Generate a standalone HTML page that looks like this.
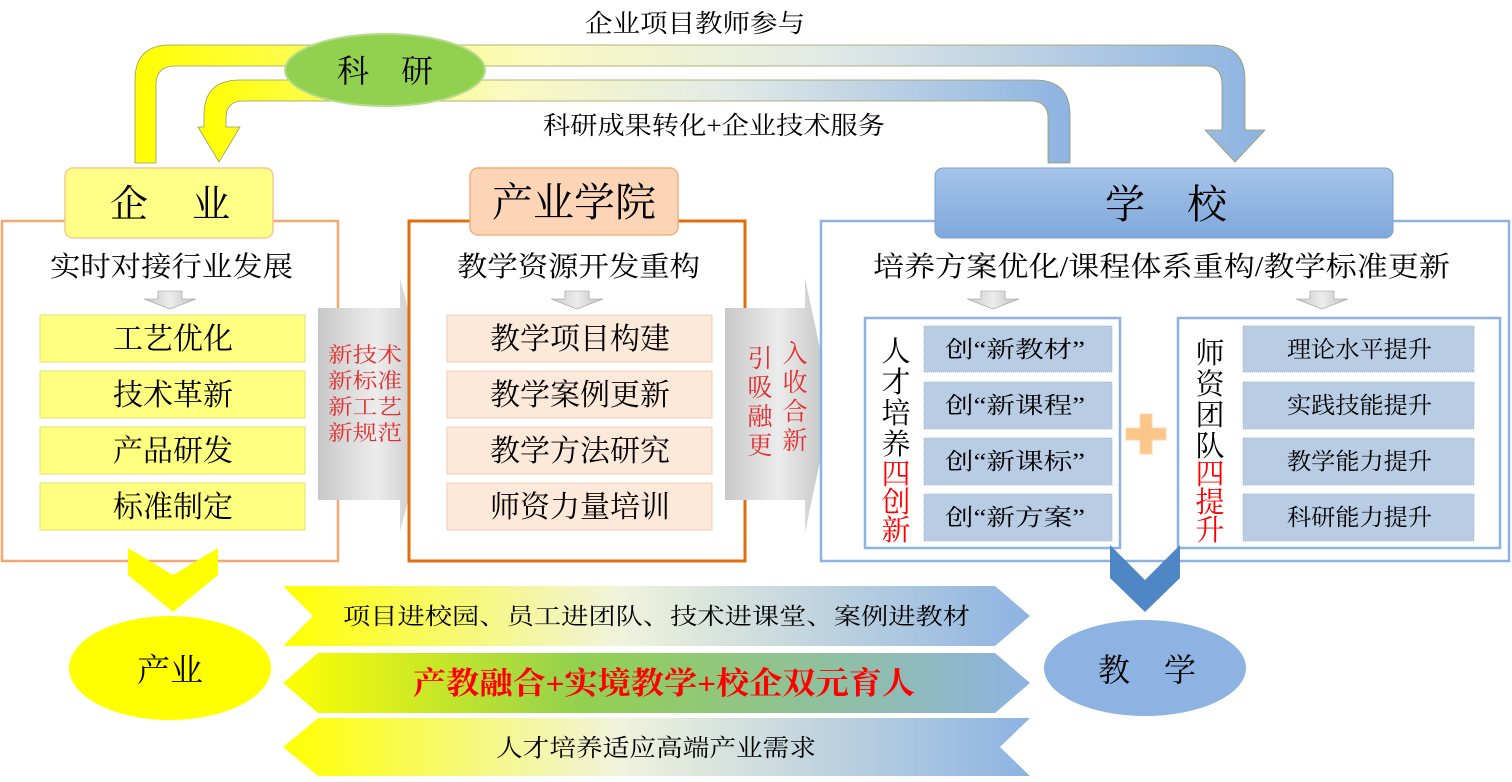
<!DOCTYPE html>
<html><head><meta charset="utf-8"><style>
html,body{margin:0;padding:0;background:#fff;}
svg text{font-family:"Liberation Serif","Noto Serif CJK SC","Noto Sans CJK SC",serif;}
</style></head><body>
<svg width="1512" height="777" viewBox="0 0 1512 777" xmlns="http://www.w3.org/2000/svg">
<defs>
<linearGradient id="band" x1="0" x2="1"><stop offset="0" stop-color="#ffff00"/><stop offset="0.35" stop-color="#fafac0"/><stop offset="0.6" stop-color="#e4ebe6"/><stop offset="1" stop-color="#8db3e2"/></linearGradient>
<linearGradient id="gray" x1="0" x2="1"><stop offset="0" stop-color="#c8c8c8"/><stop offset="0.5" stop-color="#ececec"/><stop offset="1" stop-color="#c0c0c0"/></linearGradient>
<linearGradient id="b1" x1="0" x2="1"><stop offset="0" stop-color="#ffff00"/><stop offset="0.45" stop-color="#f0f3dc"/><stop offset="1" stop-color="#8db3e2"/></linearGradient>
<linearGradient id="b2" x1="0" x2="1"><stop offset="0" stop-color="#ffff00"/><stop offset="0.4" stop-color="#92d050"/><stop offset="1" stop-color="#8db3e2"/></linearGradient>
<linearGradient id="sch" x1="0" y1="0" x2="0" y2="1"><stop offset="0" stop-color="#a6c4ea"/><stop offset="1" stop-color="#7fa8db"/></linearGradient>
</defs>

<path d="M135,163 L135,80 Q135,45 170,45 L1210,45 Q1245,45 1245,80 L1245,130 L1265,130 L1235,162 L1205,130 L1222,130 L1222,85 Q1222,66 1205,66 L175,66 Q156,66 156,85 L156,163 Z" fill="url(#band)" stroke="#9a9a60" stroke-width="0.8"/>
<path d="M1070,163 L1070,115 Q1070,80 1035,80 L240,80 Q204,80 204,115 L204,127 L198,127 L219,162 L240,127 L226,127 L226,118 Q226,101 243,101 L1030,101 Q1048,101 1048,118 L1048,163 Z" fill="url(#band)" stroke="#9a9a60" stroke-width="0.8"/>
<ellipse cx="385" cy="70" rx="100" ry="36" fill="#92d050" stroke="#b5dc88" stroke-width="2"/>
<text x="337" y="82" font-size="32" textLength="96" lengthAdjust="spacing">科研</text>
<text x="585" y="32" font-size="25" textLength="220" lengthAdjust="spacingAndGlyphs">企业项目教师参与</text>
<text x="543" y="134" font-size="25" textLength="342" lengthAdjust="spacingAndGlyphs">科研成果转化+企业技术服务</text>

<rect x="2" y="221" width="336" height="340" fill="#fff" stroke="#f4a771" stroke-width="2.5"/>
<rect x="65" y="168" width="208" height="70" rx="8" fill="#ffff88" stroke="#f5c890" stroke-width="1.5"/>
<text x="110" y="217" font-size="38" textLength="120" lengthAdjust="spacing">企业</text>
<text x="50" y="276" font-size="28" textLength="243" lengthAdjust="spacingAndGlyphs">实时对接行业发展</text>
<path d="M158,291 L182,291 L182,299 L196,299 L170,309 L144,299 L158,299 Z" fill="url(#gray)" stroke="#999" stroke-width="0.6"/>
<g font-size="30">
<rect x="40" y="315" width="265" height="47" fill="#ffff80" stroke="#e0e070"/><text x="113" y="349" textLength="120" lengthAdjust="spacingAndGlyphs">工艺优化</text>
<rect x="40" y="371" width="265" height="47" fill="#ffff80" stroke="#e0e070"/><text x="113" y="405" textLength="120" lengthAdjust="spacingAndGlyphs">技术革新</text>
<rect x="40" y="427" width="265" height="47" fill="#ffff80" stroke="#e0e070"/><text x="113" y="461" textLength="120" lengthAdjust="spacingAndGlyphs">产品研发</text>
<rect x="40" y="483" width="265" height="47" fill="#ffff80" stroke="#e0e070"/><text x="113" y="517" textLength="120" lengthAdjust="spacingAndGlyphs">标准制定</text>
</g>

<path d="M318,308 L400,308 L400,278 L433,405 L400,532 L400,500 L318,500 Z" fill="url(#gray)"/>
<g font-size="21" fill="#e03030"><text x="328" y="362" textLength="74" lengthAdjust="spacingAndGlyphs">新技术</text><text x="328" y="388" textLength="74" lengthAdjust="spacingAndGlyphs">新标准</text><text x="328" y="414" textLength="74" lengthAdjust="spacingAndGlyphs">新工艺</text><text x="328" y="440" textLength="74" lengthAdjust="spacingAndGlyphs">新规范</text></g>

<rect x="409" y="221" width="336" height="340" fill="#fff" stroke="#e46c0a" stroke-width="3"/>
<rect x="470" y="168" width="208" height="67" rx="8" fill="#fbd5b5" stroke="#f0b080" stroke-width="1.5"/>
<text x="492" y="216" font-size="40" textLength="164" lengthAdjust="spacingAndGlyphs">产业学院</text>
<text x="457" y="276" font-size="28" textLength="243" lengthAdjust="spacingAndGlyphs">教学资源开发重构</text>
<path d="M565,291 L589,291 L589,299 L603,299 L577,309 L551,299 L565,299 Z" fill="url(#gray)" stroke="#999" stroke-width="0.6"/>
<g font-size="30">
<rect x="447" y="315" width="265" height="47" fill="#fde9d9" stroke="#f3cdb5"/><text x="490" y="349" textLength="180" lengthAdjust="spacingAndGlyphs">教学项目构建</text>
<rect x="447" y="371" width="265" height="47" fill="#fde9d9" stroke="#f3cdb5"/><text x="490" y="405" textLength="180" lengthAdjust="spacingAndGlyphs">教学案例更新</text>
<rect x="447" y="427" width="265" height="47" fill="#fde9d9" stroke="#f3cdb5"/><text x="490" y="461" textLength="180" lengthAdjust="spacingAndGlyphs">教学方法研究</text>
<rect x="447" y="483" width="265" height="47" fill="#fde9d9" stroke="#f3cdb5"/><text x="490" y="517" textLength="180" lengthAdjust="spacingAndGlyphs">师资力量培训</text>
</g>

<path d="M725,308 L805,308 L805,278 L832,405 L805,532 L805,500 L725,500 Z" fill="url(#gray)"/>
<g font-size="25" fill="#e03030" text-anchor="middle"><text x="760" y="367">引</text><text x="760" y="396">吸</text><text x="760" y="425">融</text><text x="760" y="454">更</text>
<text x="795" y="362">入</text><text x="795" y="391">收</text><text x="795" y="420">合</text><text x="795" y="449">新</text></g>

<rect x="821" y="221" width="688" height="340" fill="#fff" stroke="#8db3e2" stroke-width="2.5"/>
<rect x="935" y="168" width="458" height="70" rx="8" fill="url(#sch)" stroke="#7aa0d0" stroke-width="1"/>
<text x="1105" y="218" font-size="40" textLength="122" lengthAdjust="spacing">学校</text>
<text x="873" y="276" font-size="28" textLength="577" lengthAdjust="spacingAndGlyphs">培养方案优化/课程体系重构/教学标准更新</text>
<path d="M981,291 L1005,291 L1005,299 L1019,299 L993,309 L967,299 L981,299 Z" fill="url(#gray)" stroke="#999" stroke-width="0.6"/>
<path d="M1310,291 L1334,291 L1334,299 L1348,299 L1322,309 L1296,299 L1310,299 Z" fill="url(#gray)" stroke="#999" stroke-width="0.6"/>
<rect x="865" y="318" width="255" height="230" fill="#fff" stroke="#8db3e2" stroke-width="2.5"/>
<rect x="1178" y="318" width="322" height="230" fill="#fff" stroke="#8db3e2" stroke-width="2.5"/>
<g font-size="29" text-anchor="middle"><text x="896" y="361">人</text><text x="896" y="392">才</text><text x="896" y="423">培</text><text x="896" y="454">养</text>
<text x="896" y="484" fill="#ff0000">四</text><text x="896" y="512" fill="#ff0000">创</text><text x="896" y="540" fill="#ff0000">新</text>
<text x="1210" y="363">师</text><text x="1210" y="394">资</text><text x="1210" y="425">团</text><text x="1210" y="456">队</text>
<text x="1210" y="484" fill="#ff0000">四</text><text x="1210" y="512" fill="#ff0000">提</text><text x="1210" y="540" fill="#ff0000">升</text></g>
<g font-size="23">
<rect x="924" y="326" width="188" height="46" fill="#b8cce4" stroke="#a0b4cc" stroke-dasharray="1,1"/><text x="945" y="357" textLength="140" lengthAdjust="spacingAndGlyphs">创“新教材”</text>
<rect x="924" y="382" width="188" height="47" fill="#b8cce4" stroke="#a0b4cc" stroke-dasharray="1,1"/><text x="945" y="413" textLength="140" lengthAdjust="spacingAndGlyphs">创“新课程”</text>
<rect x="924" y="438" width="188" height="47" fill="#b8cce4" stroke="#a0b4cc" stroke-dasharray="1,1"/><text x="945" y="469" textLength="140" lengthAdjust="spacingAndGlyphs">创“新课标”</text>
<rect x="924" y="494" width="188" height="47" fill="#b8cce4" stroke="#a0b4cc" stroke-dasharray="1,1"/><text x="945" y="525" textLength="140" lengthAdjust="spacingAndGlyphs">创“新方案”</text>
<rect x="1243" y="326" width="231" height="46" fill="#b8cce4" stroke="#a0b4cc" stroke-dasharray="1,1"/><text x="1287" y="357" textLength="145" lengthAdjust="spacingAndGlyphs">理论水平提升</text>
<rect x="1243" y="382" width="231" height="47" fill="#b8cce4" stroke="#a0b4cc" stroke-dasharray="1,1"/><text x="1287" y="413" textLength="145" lengthAdjust="spacingAndGlyphs">实践技能提升</text>
<rect x="1243" y="438" width="231" height="47" fill="#b8cce4" stroke="#a0b4cc" stroke-dasharray="1,1"/><text x="1287" y="469" textLength="145" lengthAdjust="spacingAndGlyphs">教学能力提升</text>
<rect x="1243" y="494" width="231" height="47" fill="#b8cce4" stroke="#a0b4cc" stroke-dasharray="1,1"/><text x="1287" y="525" textLength="145" lengthAdjust="spacingAndGlyphs">科研能力提升</text>
</g>
<path d="M1140,414 L1152,414 L1152,428 L1166,428 L1166,440 L1152,440 L1152,454 L1140,454 L1140,440 L1126,440 L1126,428 L1140,428 Z" fill="#fcc58a" stroke="#f8d8b0"/>

<path d="M1110,545 L1145,580 L1180,545 L1180,578 L1145,612 L1110,578 Z" fill="#4f86c6"/>
<path d="M128,548 L173,575 L218,548 L218,575 L173,612 L128,575 Z" fill="#ffff00"/>

<ellipse cx="170" cy="668" rx="101" ry="52" fill="#ffff00"/>
<text x="137" y="681" font-size="32" textLength="66" lengthAdjust="spacingAndGlyphs">产业</text>
<ellipse cx="1145" cy="668" rx="101" ry="48" fill="#8db3e2"/>
<text x="1098" y="681" font-size="32" textLength="98" lengthAdjust="spacing">教学</text>

<path d="M283,586 L995,586 L1030,616 L995,646 L283,646 L313,616 Z" fill="url(#b1)"/>
<text x="343" y="624" font-size="23" textLength="627" lengthAdjust="spacingAndGlyphs">项目进校园、员工进团队、技术进课堂、案例进教材</text>
<path d="M318,653 L995,653 L1030,683 L995,713 L318,713 L283,683 Z" fill="url(#b2)"/>
<text x="413" y="694" font-size="31" fill="#ff0000" font-weight="bold" textLength="502" lengthAdjust="spacingAndGlyphs">产教融合+实境教学+校企双元育人</text>
<path d="M318,718 L1030,718 L1000,747 L1030,776 L318,776 L283,747 Z" fill="url(#b1)"/>
<text x="496" y="756" font-size="24" textLength="320" lengthAdjust="spacingAndGlyphs">人才培养适应高端产业需求</text>
</svg>
</body></html>
